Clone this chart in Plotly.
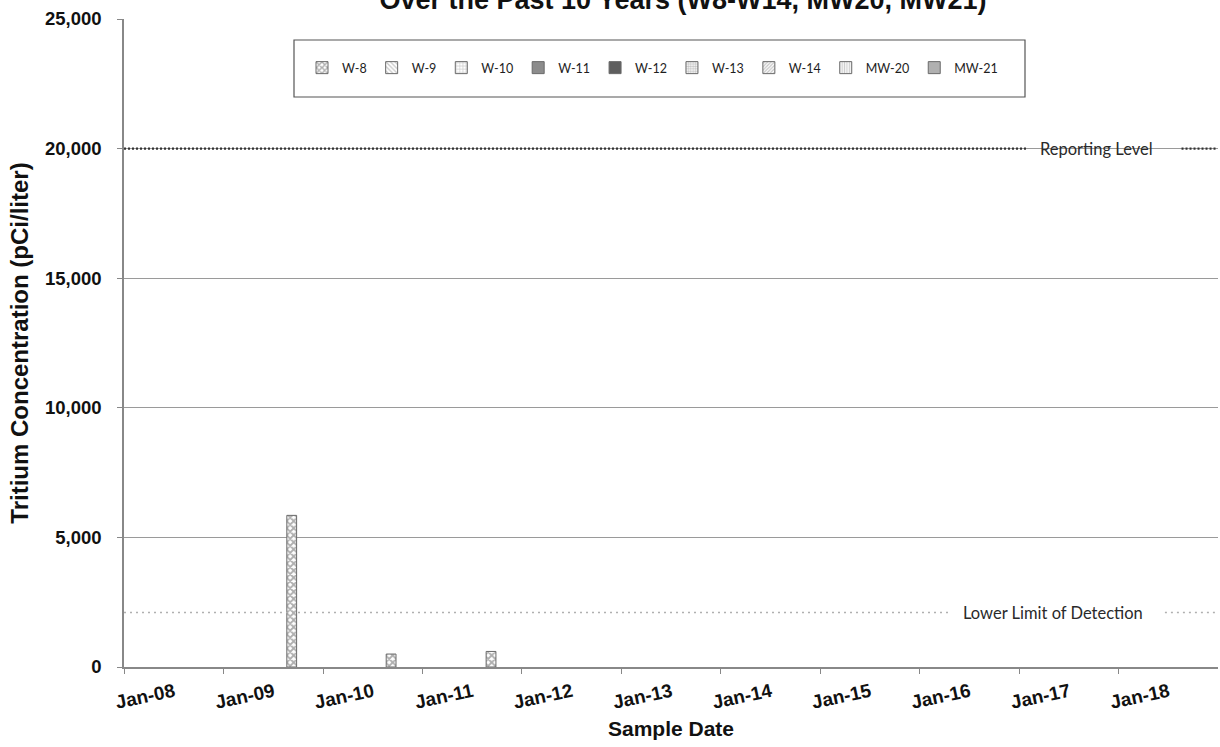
import plotly.graph_objects as go

# Sampled wells shown in the legend
wells = ["W-8", "W-9", "W-10", "W-11", "W-12", "W-13", "W-14", "MW-20", "MW-21"]

# Detected tritium results (pCi/liter) by well
w8_dates = ["2009-09-08", "2010-09-08", "2011-09-10"]
w8_values = [5850, 500, 600]

reporting_level = 20000
lower_limit_detection = 2100

x_tick_dates = ["2008-01-01", "2009-01-01", "2010-01-01", "2011-01-01", "2012-01-01",
                "2013-01-01", "2014-01-01", "2015-01-01", "2016-01-01", "2017-01-01",
                "2018-01-01"]
x_tick_labels = ["Jan-08", "Jan-09", "Jan-10", "Jan-11", "Jan-12", "Jan-13",
                 "Jan-14", "Jan-15", "Jan-16", "Jan-17", "Jan-18"]
y_tick_values = [0, 5000, 10000, 15000, 20000, 25000]

# Fill style for each well's columns
styles = {
    "W-8":   dict(color="white", pattern=dict(shape="x", size=5, solidity=0.6, fgcolor="#5e5e5e")),
    "W-9":   dict(color="white", pattern=dict(shape="\\", size=4, solidity=0.4, fgcolor="#909090")),
    "W-10":  dict(color="white", pattern=dict(shape="+", size=4, solidity=0.4, fgcolor="#a0a0a0")),
    "W-11":  dict(color="#8c8c8c"),
    "W-12":  dict(color="#5e5e5e"),
    "W-13":  dict(color="white", pattern=dict(shape=".", size=3, solidity=0.6, fgcolor="#888888")),
    "W-14":  dict(color="white", pattern=dict(shape="/", size=3, solidity=0.5, fgcolor="#8a8a8a")),
    "MW-20": dict(color="white", pattern=dict(shape="|", size=3, solidity=0.5, fgcolor="#9a9a9a")),
    "MW-21": dict(color="#b0b0b0"),
}

W, H = 1220, 747
ML, MR, MT, MB = 124, 2, 19, 80
PW, PH = W - ML - MR, H - MT - MB

AXIS_FONT = "Arial, Liberation Sans, sans-serif"
LABEL_FONT = "Lato, Open Sans, sans-serif"


def px_x(p):
    return (p - ML) / PW


def px_y(p):
    return 1 - (p - MT) / PH


bar_width_ms = 36 * 24 * 3600 * 1000

fig = go.Figure()
for name in wells:
    if name == "W-8":
        xs, ys = w8_dates, w8_values
    else:
        xs, ys = [None], [None]
    st = styles[name]
    fig.add_trace(go.Bar(
        x=xs, y=ys, name=name,
        width=[bar_width_ms] * len(xs),
        marker=dict(color=st["color"], pattern=st.get("pattern"),
                    line=dict(color="#6a6a6a", width=1)),
    ))

# Reporting level line, broken around its label
fig.add_shape(type="line", xref="x", yref="y", x0="2008-01-01", x1="2017-01-26",
              y0=reporting_level, y1=reporting_level,
              line=dict(color="#333333", width=2.2, dash="2px,2px"))
fig.add_shape(type="line", xref="x", yref="y", x0="2018-08-20", x1="2018-12-25",
              y0=reporting_level, y1=reporting_level,
              line=dict(color="#333333", width=2.2, dash="2px,2px"))
fig.add_annotation(x="2017-10-10", y=reporting_level, xref="x", yref="y",
                   text="Reporting Level", showarrow=False,
                   font=dict(family=LABEL_FONT, size=16.5, color="#2a2a2a"))

# Lower limit of detection line, broken around its label
fig.add_shape(type="line", xref="x", yref="y", x0="2008-01-01", x1="2016-04-21",
              y0=lower_limit_detection, y1=lower_limit_detection,
              line=dict(color="#b0b0b0", width=1.6, dash="2px,4px"))
fig.add_shape(type="line", xref="x", yref="y", x0="2018-06-20", x1="2018-12-25",
              y0=lower_limit_detection, y1=lower_limit_detection,
              line=dict(color="#b0b0b0", width=1.6, dash="2px,4px"))
fig.add_annotation(x="2017-05-06", y=lower_limit_detection, xref="x", yref="y",
                   text="Lower Limit of Detection", showarrow=False,
                   font=dict(family=LABEL_FONT, size=16.5, color="#2a2a2a"))

# Legend frame
fig.add_shape(type="rect", xref="paper", yref="paper",
              x0=px_x(294), x1=px_x(1025), y0=px_y(97), y1=px_y(40),
              line=dict(color="#555555", width=1.2), fillcolor="white", layer="below")

fig.update_layout(
    width=W, height=H,
    margin=dict(l=ML, r=MR, t=MT, b=MB),
    paper_bgcolor="white", plot_bgcolor="white",
    barmode="overlay",
    title=dict(text="<b>Over the Past 10 Years (W8-W14, MW20, MW21)</b>",
               x=683 / W, xanchor="center", y=1 - 9 / H, yanchor="bottom",
               yref="container",
               font=dict(family=AXIS_FONT, size=27, color="#111111")),
    legend=dict(orientation="h", x=px_x(302), xanchor="left", y=px_y(68), yanchor="middle",
                bgcolor="rgba(0,0,0,0)", borderwidth=0, itemwidth=30,
                font=dict(family=LABEL_FONT, size=12.5, color="#1e1e1e")),
    xaxis=dict(
        type="date", range=["2008-01-01", "2019-01-01"],
        tickvals=x_tick_dates, ticktext=x_tick_labels,
        tickangle=-12, ticklabelshift=50, ticklabelstandoff=0,
        ticks="outside", ticklen=5, tickcolor="#888888",
        showline=True, linecolor="#888888", linewidth=1.5,
        showgrid=False, zeroline=False,
        tickfont=dict(family=AXIS_FONT, size=19, color="#111111", weight="bold"),
        title=dict(text="<b>Sample Date</b>", standoff=10,
                   font=dict(family=AXIS_FONT, size=21, color="#111111")),
    ),
    yaxis=dict(
        range=[0, 25000], tickvals=y_tick_values, tickformat=",d",
        ticks="outside", ticklen=5, tickcolor="#888888",
        showline=True, linecolor="#888888", linewidth=1.5,
        showgrid=True, gridcolor="#9a9a9a", gridwidth=1, zeroline=False,
        ticklabelstandoff=12,
        tickfont=dict(family=AXIS_FONT, size=18.5, color="#111111", weight="bold"),
        title=dict(text="<b>Tritium Concentration (pCi/liter)</b>", standoff=10,
                   font=dict(family=AXIS_FONT, size=24, color="#111111")),
    ),
)

fig.write_html("out.html")
